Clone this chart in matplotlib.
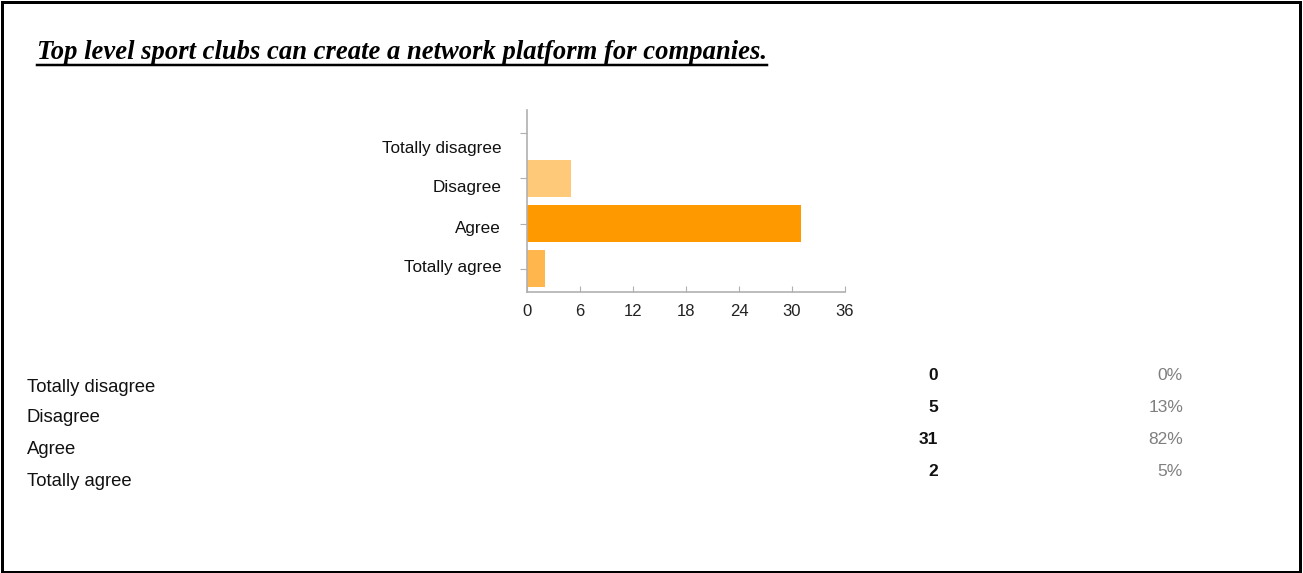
import matplotlib
matplotlib.use("Agg")
import matplotlib.pyplot as plt
import matplotlib.transforms as mtransforms
from matplotlib.patches import Rectangle

# Survey answers
answers = ['Totally disagree', 'Disagree', 'Agree', 'Totally agree']
counts = [0, 5, 31, 2]
bar_colors = ['#FFE0B0', '#FFC97A', '#FF9900', '#FFB74D']
x_ticks = [0, 6, 12, 18, 24, 30, 36]

total = sum(counts)
percents = [round(100 * c / total) for c in counts]

W, H = 1303, 573
fig = plt.figure(figsize=(W / 100, H / 100), dpi=100)
fig.patch.set_facecolor('white')

def fx(px):
    return px / W

def fy(py):
    return 1 - py / H

# frame around the whole page
fig.add_artist(Rectangle((fx(1.5), fy(571.5)), fx(1299.5) - fx(1.5), fy(1.5) - fy(571.5),
                         transform=fig.transFigure, fill=False, edgecolor='black',
                         linewidth=3 * 0.72))

# underlined title
title = fig.text(fx(37), fy(59), 'Top level sport clubs can create a network platform for companies.',
                 family='Liberation Serif', weight='bold', style='italic', fontsize=19.2,
                 ha='left', va='baseline', color='black')
fig.canvas.draw()
bb = title.get_window_extent()
fig.add_artist(plt.Line2D([bb.x0 / W, bb.x1 / W], [fy(64.5), fy(64.5)],
                          transform=fig.transFigure, color='black', linewidth=2.5 * 0.72))

# bar chart
ax = fig.add_axes([fx(527), fy(292), fx(845) - fx(527), fy(110) - fy(292)])
ypos = list(range(len(answers)))
ax.barh(ypos, counts, height=0.82, color=bar_colors, edgecolor='none')
ax.set_xlim(0, 36)
ax.set_ylim(3.52, -0.52)
ax.set_xticks(x_ticks)
ax.set_yticks(ypos)
ax.set_yticklabels(answers, family='Liberation Sans', fontsize=12.3, color='#111111')
for sp in ['top', 'right']:
    ax.spines[sp].set_visible(False)
for sp in ['left', 'bottom']:
    ax.spines[sp].set_color('#b0b0b0')
    ax.spines[sp].set_linewidth(1.2)
ax.tick_params(axis='y', direction='out', length=5, color='#b0b0b0', pad=13.5)
ax.tick_params(axis='x', direction='in', length=4, color='#b0b0b0', pad=9,
               labelsize=12, labelcolor='#222222')
for lab in ax.get_xticklabels():
    lab.set_family('Liberation Sans')

# tick labels sit a little off their ticks
shifts = [-14, -8, -3, 3]
for lab, s in zip(ax.get_yticklabels(), shifts):
    lab.set_transform(lab.get_transform() +
                      mtransforms.ScaledTranslation(0, s / 100, fig.dpi_scale_trans))

# summary table
label_rows = [387, 418, 450, 482]
value_rows = [376, 407, 439, 471]
for name, ly, vy, c, p in zip(answers, label_rows, value_rows, counts, percents):
    fig.text(fx(27), fy(ly), name, family='Liberation Sans', fontsize=13.3,
             ha='left', va='center', color='#111111')
    fig.text(fx(938), fy(vy), str(c), family='Liberation Sans', fontsize=12.5,
             weight='bold', ha='right', va='center', color='#111111')
    fig.text(fx(1183), fy(vy), f'{p}%', family='Liberation Sans', fontsize=12.5,
             ha='right', va='center', color='#7f7f7f')

fig.savefig('out.png', dpi=100, facecolor='white')
